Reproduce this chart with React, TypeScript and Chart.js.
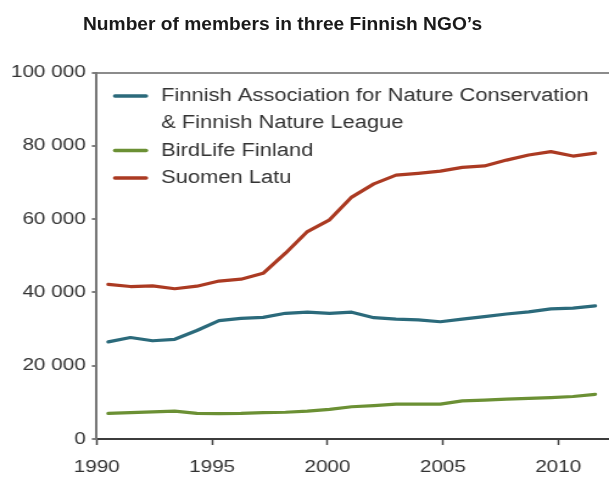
import React, { useEffect, useRef } from 'react';
import { Chart, registerables } from 'chart.js';

Chart.register(...registerables);

// The reference chart is horizontally stretched; draw at native width and stretch.
const SCALE_X = 1.218;
const W = 500;
const H = 479;
const FONT = '"Liberation Sans", Arial, Helvetica, sans-serif';

const chartTitle = 'Number of members in three Finnish NGO’s';
const seriesLabels = [
  'Finnish Association for Nature Conservation\n& Finnish Nature League',
  'BirdLife Finland',
  'Suomen Latu',
];
const seriesColors = ['#2b6a7b', '#6b9034', '#ab3a22'];

const pointYears = [
  1990.5, 1991.46, 1992.42, 1993.38, 1994.34, 1995.3, 1996.25, 1997.21, 1998.18,
  1999.13, 2000.09, 2001.05, 2002.01, 2002.97, 2003.93, 2004.89, 2005.84, 2006.8,
  2007.76, 2008.72, 2009.68, 2010.64, 2011.6,
];
const natureConservationValues = [
  26500, 27700, 26800, 27200, 29600, 32300, 32900, 33200, 34300, 34600, 34300, 34600,
  33100, 32700, 32500, 32000, 32700, 33400, 34100, 34700, 35500, 35700, 36300,
];
const birdLifeValues = [
  7000, 7200, 7400, 7600, 7000, 6950, 7000, 7200, 7300, 7600, 8100, 8800,
  9100, 9500, 9500, 9500, 10400, 10600, 10900, 11100, 11300, 11600, 12200,
];
const suomenLatuValues = [
  42200, 41600, 41800, 41000, 41700, 43100, 43600, 45200, 50700, 56600, 59800, 66000,
  69600, 72000, 72500, 73100, 74100, 74500, 76100, 77500, 78400, 77200, 78000,
];
const yearTicks = [1990, 1995, 2000, 2005, 2010];
const memberTicks = [0, 20000, 40000, 60000, 80000, 100000];

const fmtThousands = (v: number) => String(v).replace(/\B(?=(\d{3})+(?!\d))/g, ' ');

const insideLegend = {
  id: 'insideLegend',
  afterDatasetsDraw(chart: any) {
    const { ctx, chartArea } = chart;
    const sampleX0 = chartArea.left + 15;
    const sampleX1 = chartArea.left + 40.5;
    const textX = chartArea.left + 52.8;
    const lineH = 27.3;
    let y = chartArea.top + 23.5;
    ctx.save();
    ctx.font = `18px ${FONT}`;
    ctx.textBaseline = 'middle';
    ctx.textAlign = 'left';
    chart.data.datasets.forEach((ds: any) => {
      ctx.strokeStyle = ds.borderColor;
      ctx.lineWidth = 3.5;
      ctx.lineCap = 'round';
      ctx.beginPath();
      ctx.moveTo(sampleX0, y);
      ctx.lineTo(sampleX1, y);
      ctx.stroke();
      ctx.fillStyle = '#333333';
      String(ds.label)
        .split('\n')
        .forEach((line) => {
          ctx.fillText(line, textX, y);
          y += lineH;
        });
    });
    ctx.restore();
  },
};

export default function App() {
  const canvasRef = useRef<HTMLCanvasElement>(null);

  useEffect(() => {
    if (!canvasRef.current) return;
    const mk = (label: string, values: number[], color: string) => ({
      label,
      data: values.map((v, i) => ({ x: pointYears[i], y: v })),
      borderColor: color,
      backgroundColor: color,
      borderWidth: 3.2,
      pointRadius: 0,
      tension: 0,
      fill: false,
      borderJoinStyle: 'round' as const,
      borderCapStyle: 'round' as const,
    });
    const chart = new Chart(canvasRef.current, {
      type: 'line',
      data: {
        datasets: [
          mk(seriesLabels[0], natureConservationValues, seriesColors[0]),
          mk(seriesLabels[1], birdLifeValues, seriesColors[1]),
          mk(seriesLabels[2], suomenLatuValues, seriesColors[2]),
        ],
      },
      plugins: [insideLegend],
      options: {
        responsive: false,
        animation: false,
        devicePixelRatio: 1,
        layout: { padding: { top: 72.5, left: 0, right: 0, bottom: 0 } },
        plugins: {
          legend: { display: false },
          title: { display: false },
          tooltip: { enabled: false },
        },
        scales: {
          x: {
            type: 'linear',
            min: 1990,
            max: 2012.2,
            afterBuildTicks: (s: any) => {
              s.ticks = yearTicks.map((v) => ({ value: v }));
            },
            afterFit: (s: any) => {
              s.height = 40;
            },
            ticks: {
              color: '#333333',
              font: { family: FONT, size: 17 },
              padding: 12,
              maxRotation: 0,
              autoSkip: false,
              callback: (v: any) => String(v),
            },
            grid: {
              drawOnChartArea: false,
              drawTicks: true,
              tickLength: 6,
              tickColor: '#444444',
              tickWidth: 1.5,
            },
            border: { display: true, color: '#3c3c3c', width: 2 },
          },
          y: {
            type: 'linear',
            min: 0,
            max: 100000,
            afterBuildTicks: (s: any) => {
              s.ticks = memberTicks.map((v) => ({ value: v }));
            },
            afterFit: (s: any) => {
              s.width = 79.4;
            },
            ticks: {
              color: '#333333',
              font: { family: FONT, size: 17 },
              padding: 5,
              callback: (v: any) => fmtThousands(Number(v)),
            },
            grid: {
              color: (c: any) => (c.tick && c.tick.value === 100000 ? '#8c8c8c' : 'rgba(0,0,0,0)'),
              lineWidth: 2,
              drawTicks: true,
              tickLength: 4,
              tickColor: '#555555',
              tickWidth: 1.5,
            },
            border: { display: true, color: '#777777', width: 2 },
          },
        },
      },
    });
    return () => chart.destroy();
  }, []);

  return (
    <div
      style={{
        position: 'absolute',
        left: 0,
        top: 0,
        width: 609,
        height: H,
        overflow: 'hidden',
        background: '#ffffff',
      }}
    >
      <div
        style={{
          position: 'absolute',
          left: 0,
          top: 0,
          width: W,
          height: H,
          transform: `scaleX(${SCALE_X})`,
          transformOrigin: '0 0',
        }}
      >
        <canvas ref={canvasRef} width={W} height={H} style={{ display: 'block', width: W, height: H }} />
      </div>
      <div
        style={{
          position: 'absolute',
          left: 83,
          top: 14,
          fontFamily: FONT,
          fontWeight: 'bold',
          fontSize: 19.2,
          lineHeight: '19px',
          color: '#1a1a1a',
          whiteSpace: 'nowrap',
        }}
      >
        {chartTitle}
      </div>
    </div>
  );
}
